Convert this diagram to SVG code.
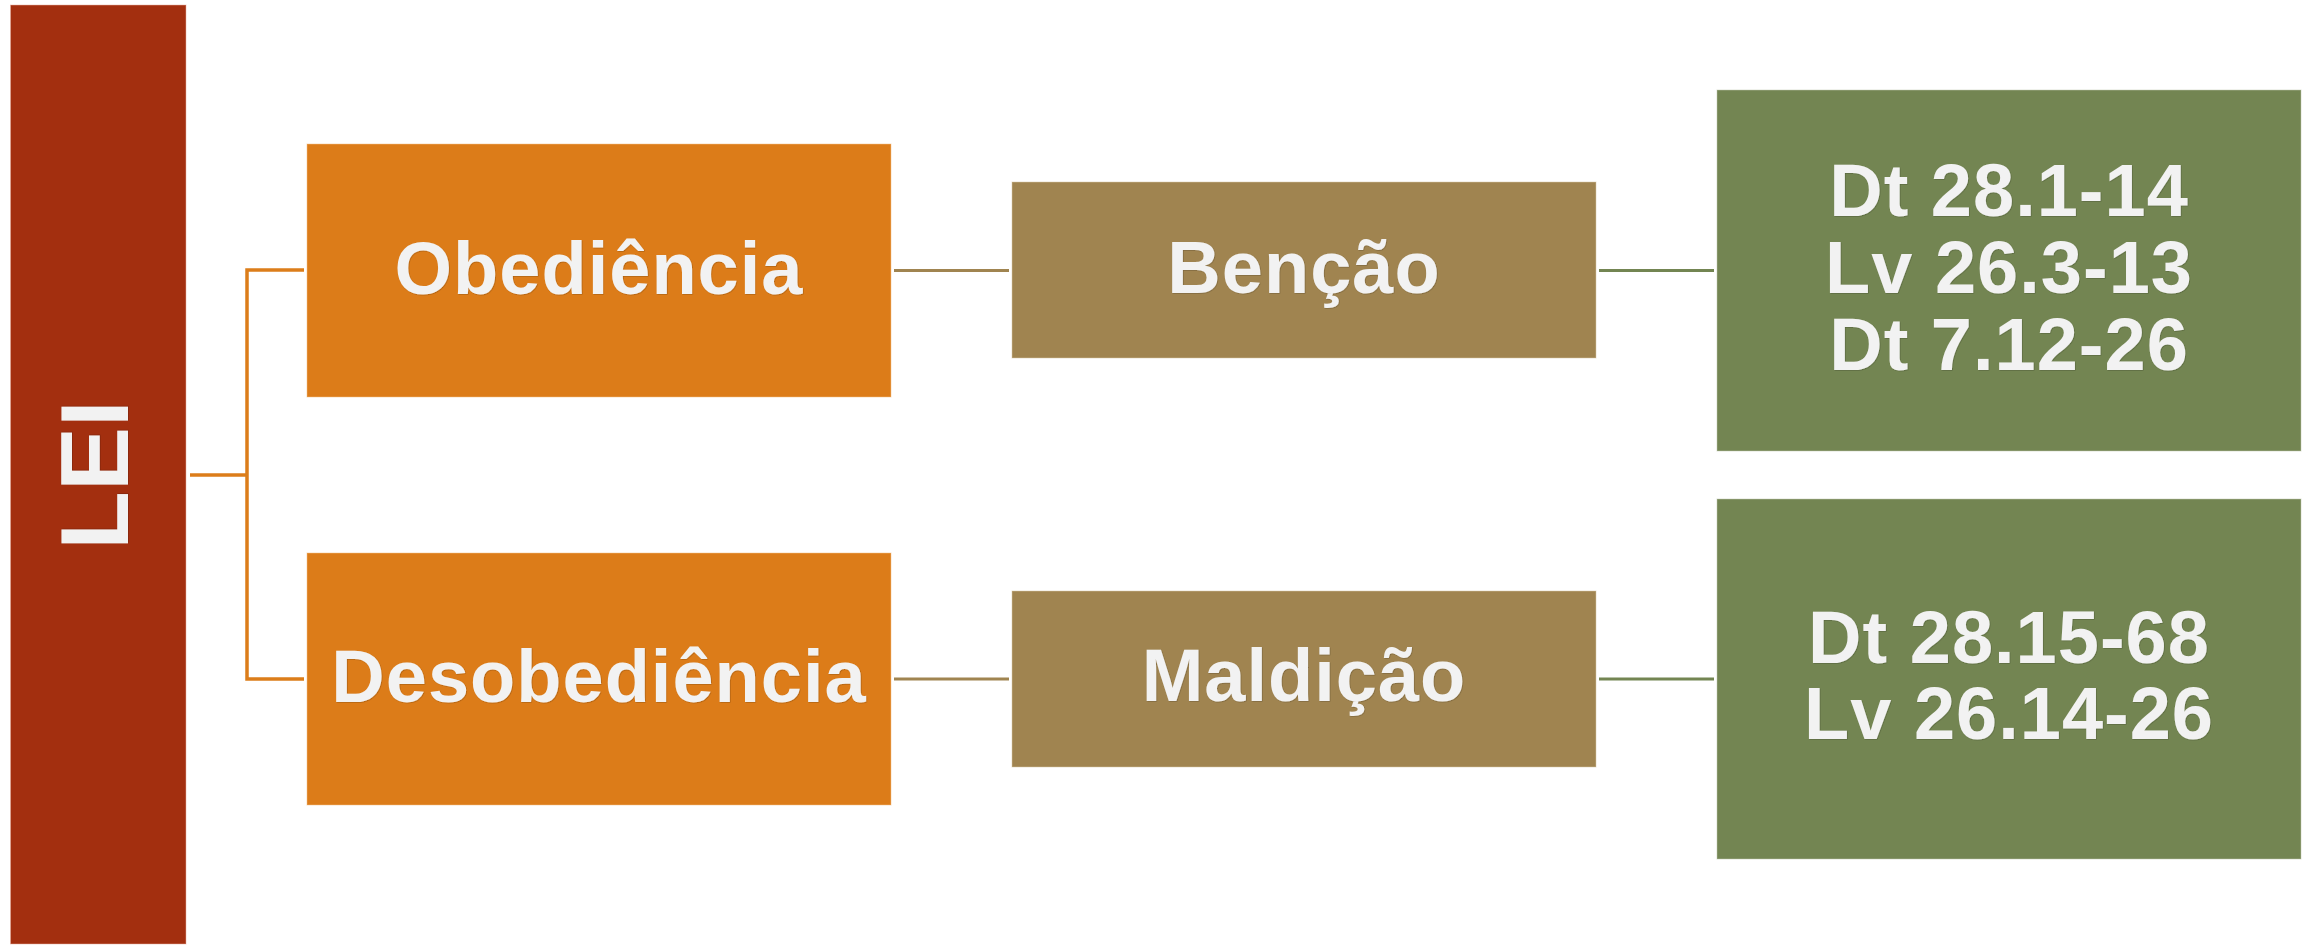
<svg xmlns="http://www.w3.org/2000/svg" width="2308" height="947" viewBox="0 0 2308 947">
  <defs>
    <filter id="sh" x="-5%" y="-5%" width="110%" height="110%">
      <feDropShadow dx="0.6" dy="0.6" stdDeviation="0.6" flood-color="#000" flood-opacity="0.25"/>
    </filter>
  </defs>
  <style>
    .lbl { font-family: "Liberation Sans", Arial, sans-serif; font-weight: bold; fill: #f2f2f2; text-anchor: middle; filter: url(#sh); }
    .mid { font-size: 74px; letter-spacing: 1px; }
    .box { stroke-width: 1; stroke-opacity: 0.5; }
    .c-or { stroke: #dc7d1a; stroke-width: 3.5; fill: none; }
    .c-br { stroke: #a08450; stroke-width: 3; fill: none; }
    .c-gr { stroke: #738552; stroke-width: 3; fill: none; }
  </style>

  <g id="connectors">
    <line class="c-or" x1="190" y1="475" x2="247" y2="475"/>
    <polyline class="c-or" points="304,270 247,270 247,679 304,679"/>
    <line class="c-br" x1="894" y1="270.5" x2="1009" y2="270.5"/>
    <line class="c-br" x1="894" y1="679" x2="1009" y2="679"/>
    <line class="c-gr" x1="1599" y1="270.5" x2="1714" y2="270.5"/>
    <line class="c-gr" x1="1599" y1="679" x2="1714" y2="679"/>
  </g>

  <g id="lei">
    <rect class="box" x="10.5" y="5" width="175.5" height="939" fill="#a32f0f" stroke="#e8b0a0"/>
    <text class="lbl" font-size="96" transform="translate(128,475) rotate(-90)" x="0" y="0">LEI</text>
  </g>

  <g id="obediencia">
    <rect class="box" x="307" y="144" width="584" height="253" fill="#dc7c19" stroke="#f3c08a"/>
    <text class="lbl mid" x="599" y="294">Obediência</text>
  </g>

  <g id="desobediencia">
    <rect class="box" x="307" y="553" width="584" height="252" fill="#dc7c19" stroke="#f3c08a"/>
    <text class="lbl mid" x="599" y="702">Desobediência</text>
  </g>

  <g id="bencao">
    <rect class="box" x="1012" y="182" width="584" height="176" fill="#a08450" stroke="#d8c8a8"/>
    <text class="lbl mid" x="1304" y="293">Benção</text>
  </g>

  <g id="maldicao">
    <rect class="box" x="1012" y="591" width="584" height="176" fill="#a08450" stroke="#d8c8a8"/>
    <text class="lbl mid" x="1304" y="701">Maldição</text>
  </g>

  <g id="refs-bencao">
    <rect class="box" x="1717" y="90" width="584" height="361" fill="#738552" stroke="#c0cab0"/>
    <text class="lbl mid" x="2009" y="216">Dt 28.1-14</text>
    <text class="lbl mid" x="2009" y="293">Lv 26.3-13</text>
    <text class="lbl mid" x="2009" y="370">Dt 7.12-26</text>
  </g>

  <g id="refs-maldicao">
    <rect class="box" x="1717" y="499" width="584" height="360" fill="#738552" stroke="#c0cab0"/>
    <text class="lbl mid" x="2009" y="663">Dt 28.15-68</text>
    <text class="lbl mid" x="2009" y="739">Lv 26.14-26</text>
  </g>
</svg>
